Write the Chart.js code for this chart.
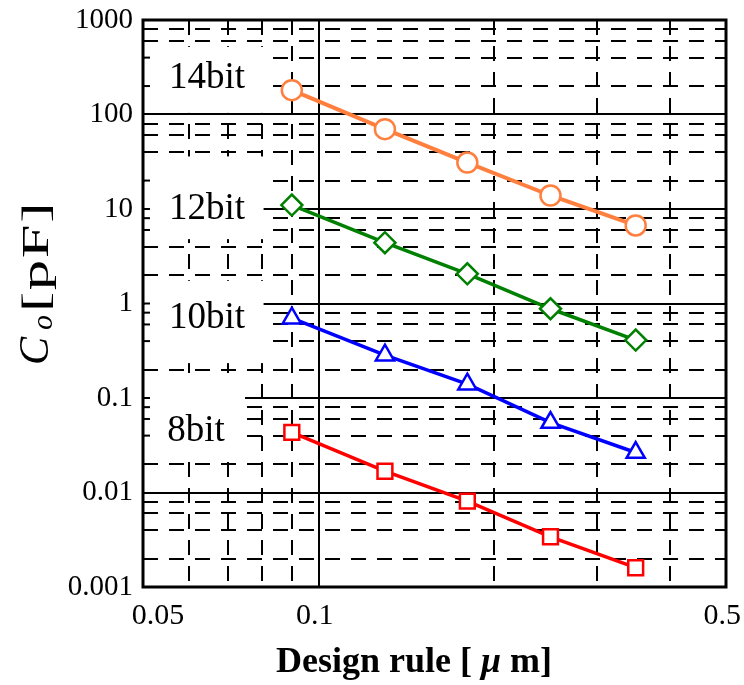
<!DOCTYPE html>
<html>
<head>
<meta charset="utf-8">
<script src="https://cdn.jsdelivr.net/npm/chart.js@4.4.1/dist/chart.umd.min.js"></script>
<style>
  html, body { margin: 0; padding: 0; background: #fff; }
  #wrap { width: 744px; height: 685px; }
</style>
</head>
<body>
<div id="wrap"><canvas id="chart" width="744" height="685"></canvas></div>
<script>
// Output capacitance C_o [pF] versus design rule [µm] for each resolution
const designRule = [0.09, 0.13, 0.18, 0.25, 0.35];
const co14bit = [181, 70, 31, 13.9, 6.7];
const co12bit = [11.0, 4.4, 2.06, 0.88, 0.41];
const co10bit = [0.70, 0.284, 0.14, 0.055, 0.0265];
const co8bit  = [0.0433, 0.0168, 0.0081, 0.0034, 0.0016];

const seriesNames = ['14bit', '12bit', '10bit', '8bit'];

// Axis ticks
const xTickValues = [0.05, 0.06, 0.07, 0.08, 0.09, 0.1, 0.2, 0.3, 0.4, 0.5];
const xTickLabels = ['0.05', '0.1', '0.5'];
const yDecades = [0.001, 0.01, 0.1, 1, 10, 100, 1000];
const yMinorSteps = [2, 4, 6, 8];
const yTickLabels = ['0.001', '0.01', '0.1', '1', '10', '100', '1000'];

const SERIF = "'Liberation Serif', 'Times New Roman', Times, serif";

const yTickValues = [];
yDecades.forEach((d, i) => {
  yTickValues.push(d);
  if (i < yDecades.length - 1) yMinorSteps.forEach(m => yTickValues.push(d * m));
});

const isDecade = v => Math.abs(Math.log10(v) - Math.round(Math.log10(v))) < 1e-9;
const sameValue = (a, b) => Math.abs(Math.log10(a) - Math.log10(b)) < 1e-6;
const labelFor = (list, v) => list.find(s => sameValue(parseFloat(s), v)) || '';

// first x label sits right of its tick so it clears the y labels
const xLabelText = v => {
  const s = labelFor(xTickLabels, v);
  if (!s) return '';
  return s === xTickLabels[0] ? '    ' + s : s + ' ';
};

// White panels carrying the series names, in data coordinates
const namePanels = [
  { text: '14bit', xMax: 0.0805, yTop: 520,  yBottom: 104,    textX: 0.0554, textY: 242 },
  { text: '12bit', xMax: 0.0805, yTop: 36,   yBottom: 4.8,    textX: 0.0554, textY: 10 },
  { text: '10bit', xMax: 0.0805, yTop: 1.74, yBottom: 0.234,  textX: 0.0554, textY: 0.69 },
  { text: '8bit',  xMax: 0.0748, yTop: 0.17, yBottom: 0.0241, textX: 0.0550, textY: 0.0445 }
];

const panelPlugin = {
  id: 'namePanels',
  beforeDatasetsDraw(chart) {
    const { ctx, chartArea } = chart;
    const xs = chart.scales.x, ys = chart.scales.y;
    ctx.save();
    namePanels.forEach(p => {
      const l = chartArea.left + 1.5;
      const r = xs.getPixelForValue(p.xMax);
      const t = ys.getPixelForValue(p.yTop);
      const b = ys.getPixelForValue(p.yBottom);
      ctx.fillStyle = '#fff';
      ctx.fillRect(l, t, r - l, b - t);
      // inner tick marks on the left axis inside the panel
      ctx.strokeStyle = '#000';
      ctx.lineWidth = 2;
      yTickValues.forEach(v => {
        const py = ys.getPixelForValue(v);
        if (py > t && py < b) {
          ctx.beginPath();
          ctx.moveTo(chartArea.left, py);
          ctx.lineTo(chartArea.left + 7, py);
          ctx.stroke();
        }
      });
      ctx.fillStyle = '#000';
      ctx.font = `37px ${SERIF}`;
      ctx.textAlign = 'left';
      ctx.textBaseline = 'middle';
      ctx.fillText(p.text, xs.getPixelForValue(p.textX), ys.getPixelForValue(p.textY));
    });
    ctx.restore();
  },
  afterDraw(chart) {
    const { ctx, chartArea } = chart;
    ctx.save();
    // plot frame
    ctx.strokeStyle = '#000';
    ctx.lineWidth = 3;
    ctx.strokeRect(chartArea.left, chartArea.top, chartArea.right - chartArea.left, chartArea.bottom - chartArea.top);

    // x axis title
    ctx.fillStyle = '#000';
    ctx.textBaseline = 'alphabetic';
    ctx.textAlign = 'left';
    const parts = [
      { s: 'Design rule [ ', f: `bold 36px ${SERIF}` },
      { s: '\u03BC', f: `italic bold 36px ${SERIF}` },
      { s: ' m]', f: `bold 36px ${SERIF}` }
    ];
    let total = 0;
    parts.forEach(p => { ctx.font = p.f; p.w = ctx.measureText(p.s).width; total += p.w; });
    let x = 414 - total / 2;
    parts.forEach(p => { ctx.font = p.f; ctx.fillText(p.s, x, 672); x += p.w; });

    // y axis title: C_o[pF]
    ctx.translate(48, 366);
    ctx.rotate(-Math.PI / 2);
    ctx.font = `italic 42px ${SERIF}`;
    ctx.fillText('C', 1, 0);
    ctx.font = `italic 30px ${SERIF}`;
    ctx.fillText('o', 36, 4);
    ctx.font = `38px ${SERIF}`;
    ctx.letterSpacing = '1px';
    ctx.translate(54, 0);
    ctx.scale(1.6, 1);
    ctx.fillText('[pF]', 0, 0);
    ctx.restore();
  }
};

const gridDash = c => (c.tick && c.tick.isDecade) ? [] : [15, 11];

const makeSeries = (name, values, color, style, width) => ({
  label: name,
  data: designRule.map((x, i) => ({ x, y: values[i] })),
  borderColor: color,
  backgroundColor: '#fff',
  borderWidth: width,
  pointStyle: style,
  pointRadius: style === 'circle' ? 10 : 10.5,
  pointBorderWidth: 2.5,
  pointBackgroundColor: '#fff',
  pointBorderColor: color,
  tension: 0
});

new Chart(document.getElementById('chart'), {
  type: 'line',
  data: {
    datasets: [
      makeSeries(seriesNames[0], co14bit, '#ff7f3f', 'circle', 4),
      makeSeries(seriesNames[1], co12bit, '#008000', 'rectRot', 3.5),
      makeSeries(seriesNames[2], co10bit, '#0000ff', 'triangle', 3.5),
      makeSeries(seriesNames[3], co8bit,  '#ff0000', 'rect', 3.5)
    ]
  },
  options: {
    responsive: false,
    animation: false,
    devicePixelRatio: 1,
    layout: { padding: { left: 0, top: 20, right: 18, bottom: 0 } },
    plugins: { legend: { display: false }, tooltip: { enabled: false } },
    scales: {
      x: {
        type: 'logarithmic',
        position: 'bottom',
        min: 0.05,
        max: 0.5,
        afterBuildTicks: s => { s.ticks = xTickValues.map(v => ({ value: v, isDecade: isDecade(v) })); },
        afterFit: s => { s.height = 98; s.paddingLeft = 0; s.paddingRight = 0; },
        grid: { drawTicks: false, lineWidth: 2, color: '#000' },
        border: { display: false, dash: gridDash },
        ticks: {
          autoSkip: false, maxRotation: 0, padding: 11, color: '#000',
          font: { family: SERIF, size: 30 },
          callback: v => xLabelText(v)
        }
      },
      y: {
        type: 'logarithmic',
        position: 'left',
        min: 0.001,
        max: 1000,
        afterBuildTicks: s => { s.ticks = yTickValues.map(v => ({ value: v, isDecade: isDecade(v) })); },
        afterFit: s => { s.width = 143; s.paddingTop = 0; s.paddingBottom = 0; },
        grid: { drawTicks: false, lineWidth: 2, color: '#000' },
        border: { display: false, dash: gridDash },
        ticks: {
          autoSkip: false, padding: 10, color: '#000',
          font: { family: SERIF, size: 29 },
          callback: v => labelFor(yTickLabels, v)
        }
      }
    }
  },
  plugins: [panelPlugin]
});
</script>
</body>
</html>
